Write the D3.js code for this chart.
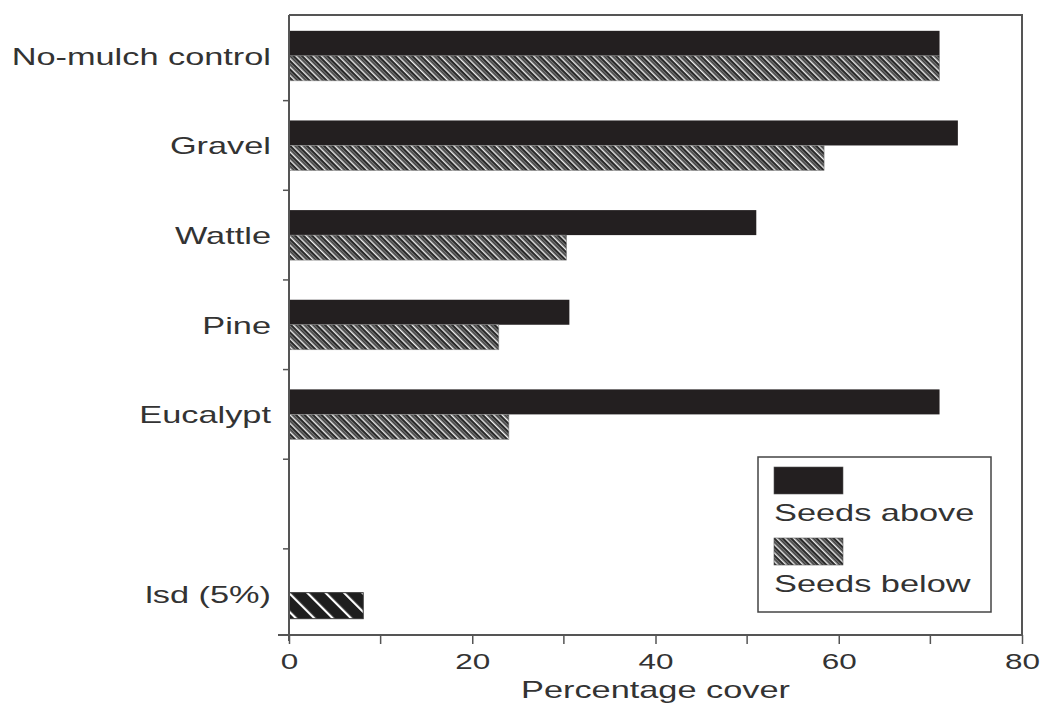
<!DOCTYPE html>
<html>
<head>
<meta charset="utf-8">
<script src="https://cdn.jsdelivr.net/npm/d3@7"></script>
<style>
  body { margin: 0; background: #fff; }
  text { font-family: "Liberation Sans", Arial, sans-serif; fill: #333; }
</style>
</head>
<body>
<div id="chart"></div>
<script>
// categories top to bottom ("" is the empty row above lsd)
const categories = ["No-mulch control", "Gravel", "Wattle", "Pine", "Eucalypt", "", "lsd (5%)"];
const seedsAbove = [71, 73, 51, 30.6, 71];
const seedsBelow = [71, 58.4, 30.3, 22.9, 24];
const lsdValue = 8.1;
const xTicks = [0, 20, 40, 60, 80];
const xMinorTicks = [10, 30, 50, 70];

const W = 1044, H = 705;
const stretch = 1.43; // the original lettering is wide

const svg = d3.select("#chart").append("svg")
    .attr("width", W)
    .attr("height", H);

const defs = svg.append("defs");

// dense hatch for "seeds below"
const hatch = defs.append("pattern")
    .attr("id", "hatch")
    .attr("patternUnits", "userSpaceOnUse")
    .attr("width", 6)
    .attr("height", 6)
    .attr("patternTransform", "rotate(-45)");
hatch.append("rect").attr("width", 6).attr("height", 6).attr("fill", "#2a2a2a");
hatch.append("rect").attr("x", 1).attr("width", 1.5).attr("height", 6).attr("fill", "#eeeeee");
hatch.append("rect").attr("x", 3.8).attr("width", 1).attr("height", 6).attr("fill", "#8a8a8a");

// coarse hatch for lsd
const hatchWide = defs.append("pattern")
    .attr("id", "hatchWide")
    .attr("patternUnits", "userSpaceOnUse")
    .attr("width", 13)
    .attr("height", 13)
    .attr("patternTransform", "rotate(-45)");
hatchWide.append("rect").attr("width", 13).attr("height", 13).attr("fill", "#1e1e1e");
hatchWide.append("rect").attr("x", 5).attr("width", 2.2).attr("height", 13).attr("fill", "#ffffff");

const x = d3.scaleLinear()
    .domain([0, 80])
    .range([289, 1022]);

const y = d3.scaleBand()
    .domain(categories)
    .range([11, 638.5])
    .paddingInner(0);

const barH = 25;
const black = "#231f20";
const axisColor = "#555";

// frame top + right
svg.append("path")
    .attr("d", `M${x(0)},15 H${x(80)} V635`)
    .attr("fill", "none")
    .attr("stroke", axisColor)
    .attr("stroke-width", 2);

// bars
const rows = categories.slice(0, 5).map((c, i) => ({ cat: c, above: seedsAbove[i], below: seedsBelow[i] }));

svg.selectAll(".bar-above")
    .data(rows)
    .enter().append("rect")
    .attr("class", "bar-above")
    .attr("x", x(0))
    .attr("y", d => y(d.cat) + y.bandwidth() / 2 - barH)
    .attr("width", d => x(d.above) - x(0))
    .attr("height", barH)
    .attr("fill", black);

svg.selectAll(".bar-below")
    .data(rows)
    .enter().append("rect")
    .attr("class", "bar-below")
    .attr("x", x(0))
    .attr("y", d => y(d.cat) + y.bandwidth() / 2)
    .attr("width", d => x(d.below) - x(0))
    .attr("height", barH)
    .attr("fill", "url(#hatch)")
    .attr("stroke", "#888")
    .attr("stroke-width", 0.6);

svg.append("rect")
    .attr("x", x(0))
    .attr("y", y("lsd (5%)") + y.bandwidth() / 2 - 1)
    .attr("width", x(lsdValue) - x(0))
    .attr("height", barH + 1)
    .attr("fill", "url(#hatchWide)")
    .attr("stroke", "#333")
    .attr("stroke-width", 1);

// left axis: ticks between rows
const yAxis = svg.append("g").attr("class", "y-axis");
yAxis.append("line")
    .attr("x1", x(0)).attr("x2", x(0))
    .attr("y1", 15).attr("y2", 641)
    .attr("stroke", axisColor).attr("stroke-width", 2);
yAxis.selectAll(".ytick")
    .data(categories.slice(1))
    .enter().append("line")
    .attr("x1", x(0) - 6).attr("x2", x(0))
    .attr("y1", d => y(d)).attr("y2", d => y(d))
    .attr("stroke", axisColor).attr("stroke-width", 1.5);

yAxis.selectAll(".ylabel")
    .data(categories.filter(c => c !== ""))
    .enter().append("text")
    .attr("transform", d => `translate(271,${y(d) + y.bandwidth() / 2 + 9}) scale(${stretch},1)`)
    .attr("text-anchor", "end")
    .style("font-size", "24px")
    .text(d => d);

// bottom axis
const xAxis = svg.append("g")
    .attr("class", "x-axis")
    .attr("transform", "translate(0,635)")
    .call(d3.axisBottom(x).tickValues(xTicks).tickSize(9).tickPadding(9).tickSizeOuter(0));
xAxis.select(".domain").remove();
xAxis.append("line")
    .attr("x1", 278).attr("x2", x(80))
    .attr("stroke", axisColor).attr("stroke-width", 2);
xAxis.selectAll(".tick line").attr("stroke", axisColor).attr("stroke-width", 1.5);
xAxis.selectAll(".tick text")
    .attr("transform", `scale(${stretch},1)`)
    .style("font-size", "22px")
    .style("font-family", "'Liberation Sans', Arial, sans-serif")
    .attr("fill", "#333");
xAxis.selectAll(".minor")
    .data(xMinorTicks)
    .enter().append("line")
    .attr("x1", d => x(d)).attr("x2", d => x(d))
    .attr("y1", 0).attr("y2", 9)
    .attr("stroke", axisColor).attr("stroke-width", 1.5);

svg.append("text")
    .attr("transform", `translate(${x(40)},698) scale(${stretch},1)`)
    .attr("text-anchor", "middle")
    .style("font-size", "24px")
    .text("Percentage cover");

// legend
const legend = svg.append("g").attr("transform", "translate(758,457)");
legend.append("rect")
    .attr("width", 233).attr("height", 155)
    .attr("fill", "#fff")
    .attr("stroke", "#444").attr("stroke-width", 1.5);

const legendItems = [
    { label: "Seeds above", fill: black },
    { label: "Seeds below", fill: "url(#hatch)" }
];
const item = legend.selectAll(".legend-item")
    .data(legendItems)
    .enter().append("g")
    .attr("class", "legend-item")
    .attr("transform", (d, i) => `translate(16,${10 + i * 71})`);
item.append("rect")
    .attr("width", 69).attr("height", 27)
    .attr("fill", d => d.fill)
    .attr("stroke", "#555").attr("stroke-width", 0.6);
item.append("text")
    .attr("transform", `translate(0,54) scale(${stretch},1)`)
    .style("font-size", "24px")
    .text(d => d.label);
</script>
</body>
</html>
